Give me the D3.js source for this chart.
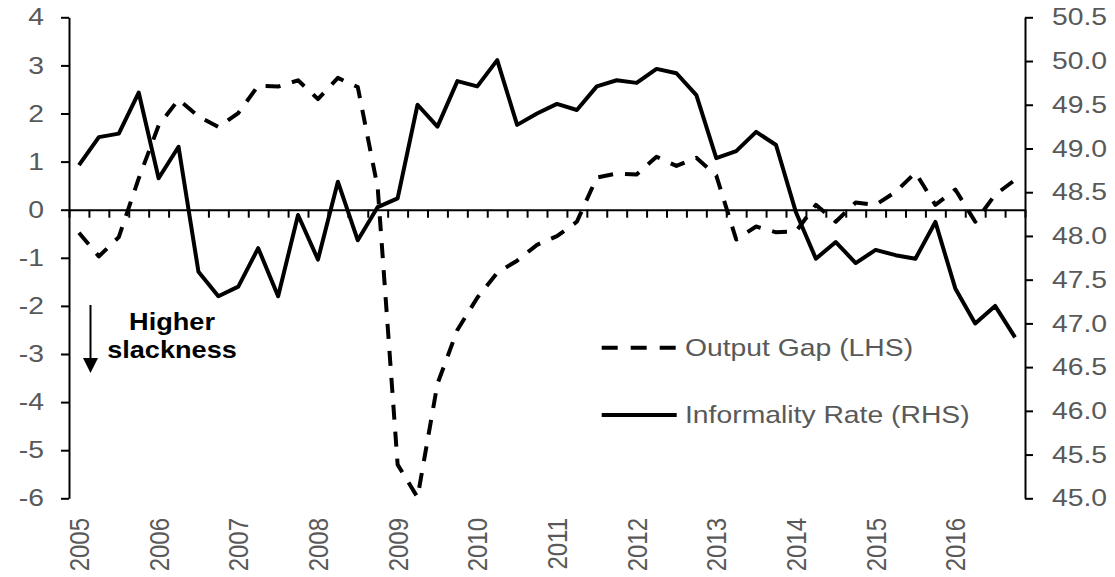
<!DOCTYPE html>
<html>
<head>
<meta charset="utf-8">
<script src="https://cdn.jsdelivr.net/npm/d3@7"></script>
<style>
  body { margin: 0; background: #fff; }
  svg { display: block; font-family: "Liberation Sans", Arial, sans-serif; }
  .tick line, .domain { stroke: #000; stroke-width: 2; }
</style>
</head>
<body>
<div id="js-canvas"></div>
<script>
"use strict";

// Years shown on the category axis, one point per quarter.
const years = [2005, 2006, 2007, 2008, 2009, 2010, 2011, 2012, 2013, 2014, 2015, 2016];
const quarterNames = ["Q1", "Q2", "Q3", "Q4"];

// Output gap, percent (left axis), 2005Q1 .. 2016Q4.
const outputGap = [
  -0.48, -0.97, -0.57, 0.65,
  1.75, 2.29, 1.94, 1.72,
  2.01, 2.58, 2.56, 2.69,
  2.30, 2.74, 2.55, 0.46,
  -5.30, -5.98, -3.62, -2.50,
  -1.83, -1.31, -1.06, -0.73,
  -0.55, -0.25, 0.67, 0.75,
  0.73, 1.10, 0.91, 1.08,
  0.71, -0.62, -0.35, -0.47,
  -0.45, 0.10, -0.25, 0.15,
  0.10, 0.37, 0.77, 0.10,
  0.42, -0.25, 0.31, 0.62
];

// Informality rate, percent (right axis), 2005Q1 .. 2016Q4.
const informality = [
  48.81, 49.13, 49.17, 49.64,
  48.66, 49.02, 47.59, 47.31,
  47.42, 47.86, 47.31, 48.24,
  47.73, 48.62, 47.95, 48.33,
  48.43, 49.50, 49.25, 49.77,
  49.71, 50.01, 49.27, 49.40,
  49.51, 49.44, 49.71, 49.78,
  49.75, 49.91, 49.86, 49.61,
  48.89, 48.97, 49.19, 49.04,
  48.27, 47.74, 47.93, 47.69,
  47.84, 47.78, 47.74, 48.16,
  47.40, 47.00, 47.20, 46.84
];

const leftTicks = [-6, -5, -4, -3, -2, -1, 0, 1, 2, 3, 4];
const rightTicks = [45.0, 45.5, 46.0, 46.5, 47.0, 47.5, 48.0, 48.5, 49.0, 49.5, 50.0, 50.5];
const legendLabels = ["Output Gap (LHS)", "Informality Rate (RHS)"];

const width = 1115;
const height = 577;
const plot = { left: 69, right: 1025, top: 17.3, bottom: 498.3 };
const grey = "#595959";
const stretch = 1.18; // the picture's text is a bit wider than plain Arial
const dash = "15,12";

const quarters = years.flatMap(function (y) {
  return quarterNames.map(function (q) { return y + q; });
});

const x = d3.scaleBand().domain(quarters).range([plot.left, plot.right]);
const xEdge = d3.scaleLinear().domain([0, quarters.length]).range([plot.left, plot.right]);
const yL = d3.scaleLinear().domain([-6, 4]).range([plot.bottom, plot.top]);
const yR = d3.scaleLinear().domain([45, 50.5]).range([plot.bottom, plot.top]);
const cx = function (q) { return x(q) + x.bandwidth() / 2; };

const svg = d3.select("#js-canvas")
  .append("svg")
    .attr("width", width)
    .attr("height", height);

// left axis, plain hyphen for negatives like the original
const gLeft = svg.append("g")
  .attr("transform", "translate(" + plot.left + ",0)")
  .call(d3.axisLeft(yL).tickValues(leftTicks)
          .tickFormat(function (d) { return String(d); })
          .tickSizeInner(8).tickSizeOuter(0));
gLeft.selectAll("text")
  .attr("x", -25 / stretch)
  .attr("transform", "scale(" + stretch + ",1)")
  .attr("fill", grey)
  .style("font-size", "24px");

// right axis
const gRight = svg.append("g")
  .attr("transform", "translate(" + plot.right + ",0)")
  .call(d3.axisRight(yR).tickValues(rightTicks)
          .tickFormat(function (d) { return d.toFixed(1); })
          .tickSizeInner(8).tickSizeOuter(0));
gRight.selectAll("text")
  .attr("x", 27 / stretch)
  .attr("transform", "scale(" + stretch + ",1)")
  .attr("fill", grey)
  .style("font-size", "24px");

// category axis sitting on zero, tick at each quarter boundary
svg.append("g")
  .attr("transform", "translate(0," + yL(0) + ")")
  .call(d3.axisBottom(xEdge).tickValues(d3.range(quarters.length + 1))
          .tickFormat("").tickSizeInner(8).tickSizeOuter(0));

// year labels at the first quarter of each year
svg.append("g")
  .selectAll("text")
  .data(quarters.filter(function (q) { return q.endsWith("Q1"); }))
  .enter()
  .append("text")
    .attr("transform", function (q) {
      return "translate(" + cx(q) + ",518) scale(" + stretch + ",1) rotate(-90)";
    })
    .attr("dy", "0.35em")
    .attr("text-anchor", "end")
    .attr("fill", grey)
    .style("font-size", "24px")
    .text(function (q) { return q.slice(0, 4); });

// series
const gapLine = d3.line()
  .x(function (d, i) { return cx(quarters[i]); })
  .y(function (d) { return yL(d); });
const infLine = d3.line()
  .x(function (d, i) { return cx(quarters[i]); })
  .y(function (d) { return yR(d); });

svg.append("path")
  .datum(outputGap)
  .attr("d", gapLine)
  .attr("fill", "none")
  .attr("stroke", "#000")
  .attr("stroke-width", 4)
  .attr("stroke-dasharray", dash)
  .attr("stroke-linejoin", "round");

svg.append("path")
  .datum(informality)
  .attr("d", infLine)
  .attr("fill", "none")
  .attr("stroke", "#000")
  .attr("stroke-width", 4)
  .attr("stroke-linejoin", "round");

// legend
const legend = svg.append("g");
[347.7, 415].forEach(function (ly, i) {
  legend.append("line")
    .attr("x1", 601.7).attr("x2", 676.7)
    .attr("y1", ly).attr("y2", ly)
    .attr("stroke", "#000")
    .attr("stroke-width", 4)
    .attr("stroke-dasharray", i === 0 ? "16,13" : null);
  legend.append("text")
    .attr("transform", "translate(685," + ly + ") scale(" + stretch + ",1)")
    .attr("dy", "0.35em")
    .attr("fill", grey)
    .style("font-size", "24px")
    .text(legendLabels[i]);
});

// slackness note
const note = svg.append("g");
note.append("line")
  .attr("x1", 90.5).attr("x2", 90.5)
  .attr("y1", 305).attr("y2", 360)
  .attr("stroke", "#000")
  .attr("stroke-width", 2);
note.append("path")
  .attr("d", "M83,358L98,358L90.5,373Z")
  .attr("fill", "#000");
[["Higher", 330], ["slackness", 358]].forEach(function (t) {
  note.append("text")
    .attr("transform", "translate(172," + t[1] + ") scale(" + stretch + ",1)")
    .attr("text-anchor", "middle")
    .attr("font-weight", "bold")
    .style("font-size", "23px")
    .text(t[0]);
});
</script>
</body>
</html>
